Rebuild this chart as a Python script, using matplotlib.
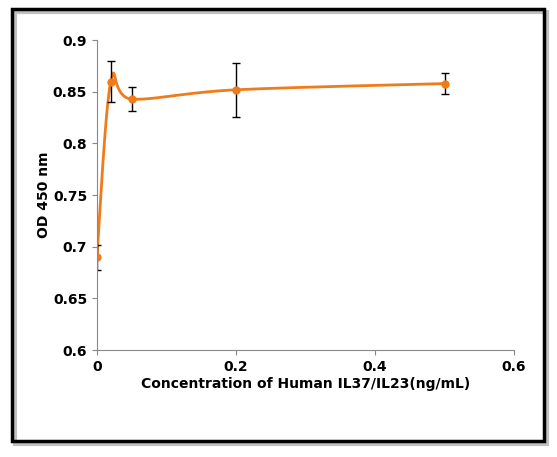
import numpy as np
import matplotlib
matplotlib.use("Agg")
import matplotlib.pyplot as plt
from matplotlib.patches import Rectangle

conc = [0, 0.02, 0.05, 0.2, 0.5]
od = [0.69, 0.86, 0.843, 0.852, 0.858]
err = [0.012, 0.02, 0.012, 0.026, 0.01]
xticks = [0, 0.2, 0.4, 0.6]
yticks = [0.6, 0.65, 0.7, 0.75, 0.8, 0.85, 0.9]

def catmull(xs, ys, n=40):
    P = np.column_stack([xs, ys]).astype(float)
    P = np.vstack([P[0], P, P[-1]])
    out = []
    for i in range(1, len(P) - 2):
        p0, p1, p2, p3 = P[i-1], P[i], P[i+1], P[i+2]
        t = np.linspace(0, 1, n)[:, None]
        c = 0.5 * ((2*p1) + (-p0+p2)*t + (2*p0-5*p1+4*p2-p3)*t**2 + (-p0+3*p1-3*p2+p3)*t**3)
        out.append(c)
    c = np.vstack(out)
    return c[:, 0], c[:, 1]

fig = plt.figure(figsize=(5.57, 4.57), dpi=100)
fig.patches.append(Rectangle((0.027, 0.028), 0.955, 0.945, transform=fig.transFigure,
                             fill=False, lw=3, ec='#999999', alpha=0.6))
fig.patches.append(Rectangle((0.022, 0.035), 0.955, 0.945, transform=fig.transFigure,
                             fill=False, lw=2.5, ec='black'))
ax = fig.add_axes([0.174, 0.234, 0.749, 0.678])
sx, sy = catmull(np.array(conc) / 0.6, (np.array(od) - 0.6) / 0.3)
ax.plot(sx * 0.6, sy * 0.3 + 0.6, color='#F07B1A', lw=2)
ax.errorbar(conc, od, yerr=err, fmt='o', color='#F07B1A', ms=5,
            ecolor='black', elinewidth=1, capsize=3)
ax.set_xlim(0, 0.6)
ax.set_ylim(0.6, 0.9)
ax.set_xticks(xticks)
ax.set_xticklabels(['0', '0.2', '0.4', '0.6'])
ax.set_yticks(yticks)
ax.set_yticklabels(['0.6', '0.65', '0.7', '0.75', '0.8', '0.85', '0.9'])
for s in ['top', 'right']:
    ax.spines[s].set_visible(False)
ax.spines['left'].set_color('#888888')
ax.spines['bottom'].set_color('#888888')
ax.tick_params(direction='out', labelsize=10, colors='#888888', labelcolor='black')
for lab in ax.get_xticklabels() + ax.get_yticklabels():
    lab.set_fontweight('bold')
ax.set_xlabel('Concentration of Human IL37/IL23(ng/mL)', fontsize=10, fontweight='bold', labelpad=2)
ax.set_ylabel('OD 450 nm', fontsize=10, fontweight='bold', labelpad=1)
fig.savefig('out.png', dpi=100)
